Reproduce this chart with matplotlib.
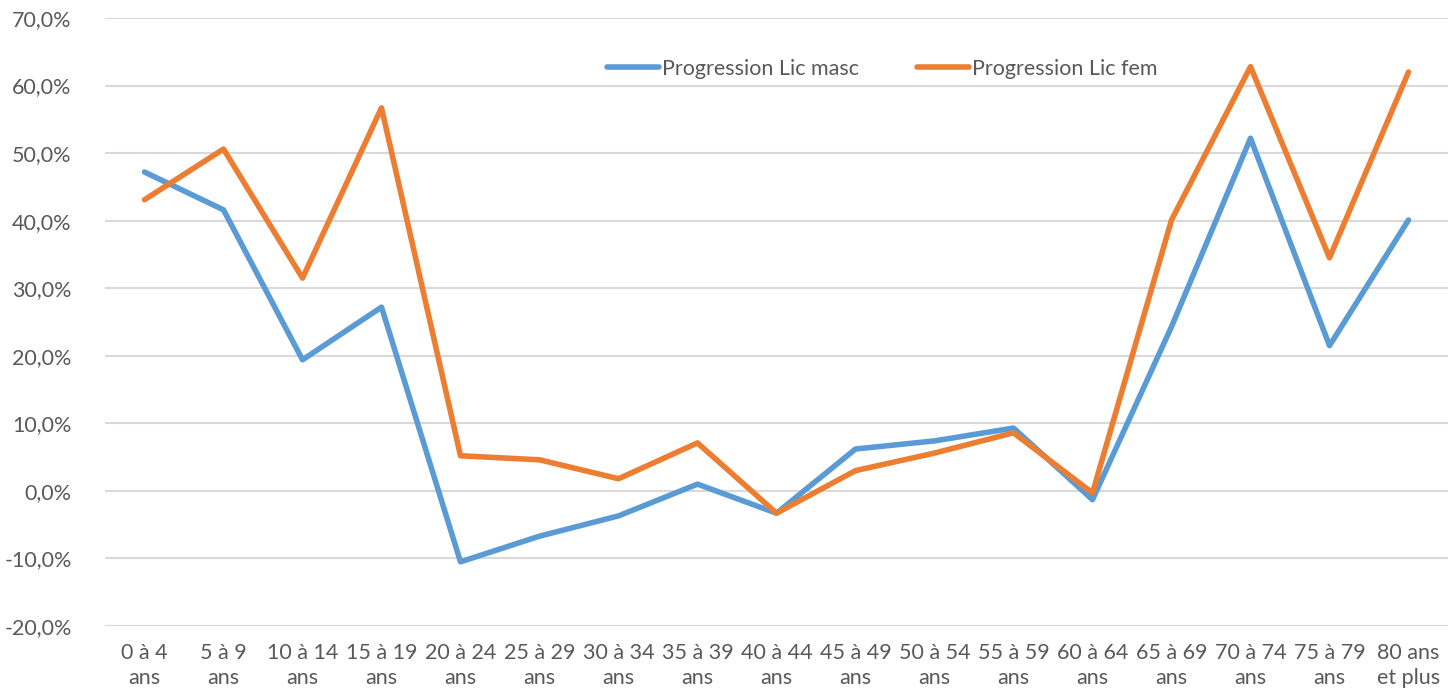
import numpy as np
import matplotlib.pyplot as plt

plt.rcParams['font.family'] = ['Lato', 'DejaVu Sans']

# donnees
categories = ['0 à 4\nans', '5 à 9\nans', '10 à 14\nans', '15 à 19\nans', '20 à 24\nans',
              '25 à 29\nans', '30 à 34\nans', '35 à 39\nans', '40 à 44\nans', '45 à 49\nans',
              '50 à 54\nans', '55 à 59\nans', '60 à 64\nans', '65 à 69\nans', '70 à 74\nans',
              '75 à 79\nans', '80 ans\net plus']
lic_masc = [47.2, 41.6, 19.4, 27.2, -10.5, -6.7, -3.7, 1.0, -3.3, 6.2, 7.4, 9.3, -1.3, 24.3, 52.2, 21.5, 40.1]
lic_fem = [43.1, 50.6, 31.5, 56.7, 5.2, 4.6, 1.8, 7.1, -3.3, 3.0, 5.6, 8.6, -0.3, 40.1, 62.8, 34.5, 62.0]

fig = plt.figure(figsize=(14.51, 6.98), dpi=100)
ax = fig.add_axes([105/1451, 72/698, 1343/1451, 608/698])

x = np.arange(len(categories))
ax.plot(x, lic_masc, color='#5B9BD5', lw=4, label='Progression Lic masc', solid_capstyle='round')
ax.plot(x, lic_fem, color='#ED7D31', lw=4, label='Progression Lic fem', solid_capstyle='round')

ax.set_xlim(-0.5, len(categories) - 0.5)
ax.set_ylim(-20, 70)
ax.set_yticks(np.arange(-20, 71, 10))
ax.set_yticklabels([('%.1f%%' % v).replace('.', ',') for v in np.arange(-20, 71, 10)])
ax.set_xticks(x)
ax.set_xticklabels(categories, linespacing=1.35)
ax.grid(axis='y', color='#D9D9D9', lw=1.5)
ax.set_axisbelow(True)
for s in ax.spines.values():
    s.set_visible(False)
ax.tick_params(length=0, labelsize=15.5, colors='#595959')
ax.tick_params(axis='y', pad=24)
ax.tick_params(axis='x', pad=12)

leg = ax.legend(loc='upper center', bbox_to_anchor=(0.579, 0.965), ncol=2, frameon=False,
                fontsize=15.5, handlelength=2.4, handletextpad=0.15, columnspacing=2.7)
for t in leg.get_texts():
    t.set_color('#595959')

fig.savefig('out.png', dpi=100)
